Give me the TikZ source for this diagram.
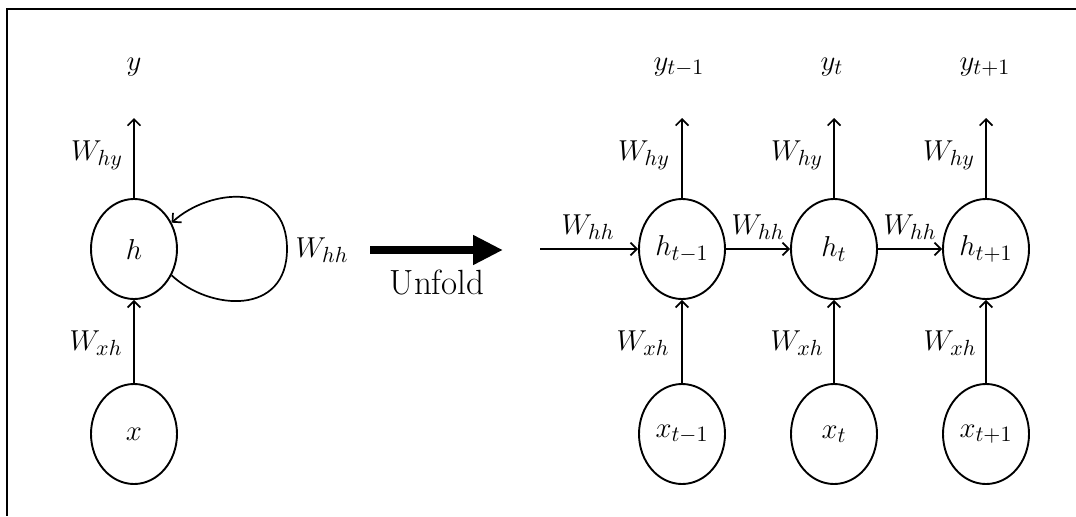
\documentclass[tikz,border=0pt]{standalone}
\usetikzlibrary{arrows.meta,shapes.geometric}
\begin{document}
\begin{tikzpicture}[x=0.5pt,y=0.5pt,
  unit/.style={draw, ellipse, line width=0.95pt, minimum width=43pt, minimum height=50pt, inner sep=0pt, font=\fontsize{15.5}{17}\selectfont},
  lbl/.style={font=\fontsize{15.5}{17}\selectfont, inner sep=0pt},
  conn/.style={line width=0.85pt, -{Straight Barb[length=3.2pt,width=6.4pt]}},
  frameline/.style={line width=1pt}
]
\useasboundingbox (0,0) rectangle (1076,516);
\draw[frameline] (1076,507) -- (7,507) -- (7,0);

% folded network
\node[unit] (h) at (134,267) {$h$};
\node[unit] (x) at (134,82) {$x$};
\node[lbl] (y) at (134,449) {$y$};
\coordinate (ytip) at (134,398);
\draw[conn] (h.north) -- (ytip);
\draw[conn] (x.north) -- (h.south);
\node[lbl] (why) at (97,361) {$W_{hy}$};
\node[lbl] (wxh) at (96,173) {$W_{xh}$};
\node[lbl] (whh) at (322,266) {$W_{hh}$};
\coordinate (loopr) at (287,267);
\draw[conn] (h.-35) .. controls (210,205) and (287,200) .. (loopr)
                    .. controls (287,335) and (210,328) .. (h.35);

% unfold arrow
\coordinate (ua) at (370,266);
\coordinate (ub) at (503,266);
\draw[line width=4pt, -{Triangle[length=15pt,width=14pt]}] (ua) -- (ub);
\node[font=\fontsize{17.5}{19}\selectfont, inner sep=0pt] (unfold) at (437,234) {Unfold};

% unfolded network
\node[unit] (h1) at (682,267) {$h_{t-1}$};
\node[unit] (h2) at (834,267) {$h_{t}$};
\node[unit] (h3) at (986,267) {$h_{t+1}$};
\node[unit] (x1) at (682,82) {$x_{t-1}$};
\node[unit] (x2) at (834,82) {$x_{t}$};
\node[unit] (x3) at (986,82) {$x_{t+1}$};
\node[lbl] (y1) at (679,449) {$y_{t-1}$};
\node[lbl] (y2) at (832,449) {$y_{t}$};
\node[lbl] (y3) at (985,449) {$y_{t+1}$};
\coordinate (t1) at (682,398);
\coordinate (t2) at (834,398);
\coordinate (t3) at (986,398);
\draw[conn] (h1.north) -- (t1);
\draw[conn] (h2.north) -- (t2);
\draw[conn] (h3.north) -- (t3);
\draw[conn] (x1.north) -- (h1.south);
\draw[conn] (x2.north) -- (h2.south);
\draw[conn] (x3.north) -- (h3.south);
\coordinate (in) at (540,267);
\draw[conn] (in) -- (h1.west);
\draw[conn] (h1.east) -- (h2.west);
\draw[conn] (h2.east) -- (h3.west);
\node[lbl] (why1) at (644,361) {$W_{hy}$};
\node[lbl] (why2) at (797,361) {$W_{hy}$};
\node[lbl] (why3) at (949,361) {$W_{hy}$};
\node[lbl] (wxh1) at (643,173) {$W_{xh}$};
\node[lbl] (wxh2) at (797,173) {$W_{xh}$};
\node[lbl] (wxh3) at (950,173) {$W_{xh}$};
\node[lbl] (whh1) at (588,289) {$W_{hh}$};
\node[lbl] (whh2) at (758,289) {$W_{hh}$};
\node[lbl] (whh3) at (910,289) {$W_{hh}$};
\end{tikzpicture}
\end{document}
